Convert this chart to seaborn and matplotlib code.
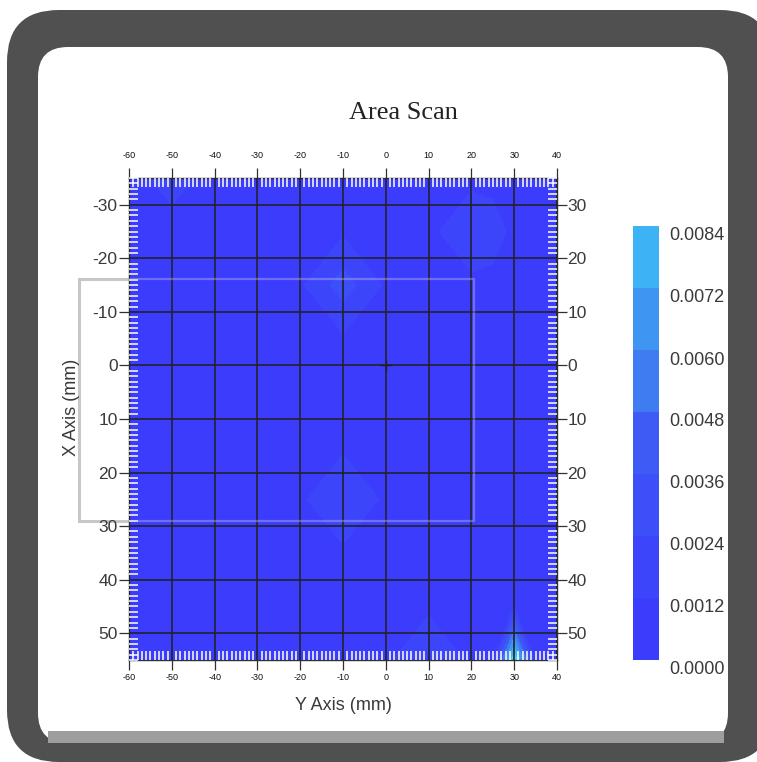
import numpy as np
import matplotlib
matplotlib.use("Agg")
import matplotlib.pyplot as plt
import matplotlib.cm as cm
import seaborn as sns
from matplotlib.colors import ListedColormap, BoundaryNorm
from matplotlib.patches import FancyBboxPatch, Rectangle
from matplotlib.transforms import ScaledTranslation

# ---------------- data ----------------
x_nodes = [-60, -50, -40, -30, -20, -10, 0, 10, 20, 25, 30, 35, 40]   # Y Axis (mm)
y_nodes = [-35, -25, -15, -5, 5, 15, 25, 35, 45, 55]                  # X Axis (mm)
background = 0.0010
hot_x = [-50, 20, 25, -10, -10, 10, 30]
hot_y = [-35, -25, -25, -15, 25, 55, 55]
hot_v = [0.0014, 0.0018, 0.0015, 0.0030, 0.0022, 0.0021, 0.0095]
center_x = [0]
center_y = [0]

cbar_levels = [0.0000, 0.0012, 0.0024, 0.0036, 0.0048, 0.0060, 0.0072, 0.0084]
plot_levels = cbar_levels + [0.0100]
x_ticks = [-60, -50, -40, -30, -20, -10, 0, 10, 20, 30, 40]
y_ticks = [-30, -20, -10, 0, 10, 20, 30, 40, 50]
title = "Area Scan"
xlabel = "Y Axis (mm)"
ylabel = "X Axis (mm)"

band_colors = ["#3c3cfc", "#3d45fa", "#3d4ff8", "#3e5bf6",
               "#3f7cf2", "#3f95f2", "#3db3f5"]
over_color = "#4ad6f2"

# ---------------- style ----------------
sns.set_theme(style="white")
plt.rcParams["font.family"] = ["Liberation Sans", "DejaVu Sans"]
plt.rcParams["axes.unicode_minus"] = False

W, H = 757, 762
fig = plt.figure(figsize=(W / 100, H / 100), dpi=100)
fig.patch.set_facecolor("white")

# decorative frame (pixel coordinates)
bg = fig.add_axes([0, 0, 1, 1], zorder=-5)
bg.set_xlim(0, W)
bg.set_ylim(H, 0)
bg.axis("off")
bg.add_patch(FancyBboxPatch((7, 10), 765, 752,
                            boxstyle="round,pad=0,rounding_size=52",
                            fc="#505050", ec="none"))
bg.add_patch(FancyBboxPatch((38, 47), 690, 696,
                            boxstyle="round,pad=0,rounding_size=30",
                            fc="white", ec="none"))
bg.add_patch(Rectangle((48, 731), 676, 12, fc="#9e9e9e", ec="none"))
bg.add_patch(Rectangle((79, 279), 395, 242, fill=False, ec="#c4c8c8", lw=2.2))

# main axes
ax = fig.add_axes([129 / W, 1 - 660 / H, 428 / W, 482 / H])

X, Y = np.meshgrid(x_nodes, y_nodes)
Z = np.full(X.shape, background)
for hx, hy, hv in zip(hot_x, hot_y, hot_v):
    Z[y_nodes.index(hy), x_nodes.index(hx)] = hv

ax.contourf(X, Y, Z, levels=plot_levels, colors=band_colors + [over_color])

faint = Rectangle((79, 279), 395, 242, transform=bg.transData, fill=False,
                  ec="#d0d0e8", lw=1.6, alpha=0.35, zorder=3)
ax.add_patch(faint)

ax.plot(center_x, center_y, marker="+", color="#202020", ms=8, mew=1.0,
        ls="none", zorder=4)

ax.set_xlim(-60, 40)
ax.set_ylim(55, -35)
ax.set_xticks(x_ticks)
ax.set_yticks(y_ticks)
ax.set_xticks(np.arange(-60, 41, 1), minor=True)
ax.set_yticks(np.arange(-35, 56, 1), minor=True)

ax.set_axisbelow(False)
ax.grid(True, which="major", color="#22222c", lw=1.2)
ax.grid(False, which="minor")
for sp in ax.spines.values():
    sp.set_color("#303030")
    sp.set_linewidth(1.0)

ax.tick_params(which="major", direction="out", length=7.2, width=0.9,
               color="#303030")
ax.tick_params(axis="x", which="major", top=True, bottom=True, labeltop=False,
               labelsize=6.5, labelcolor="#111111", pad=2)
ax.tick_params(axis="y", which="major", left=True, right=True, labelright=False,
               labelsize=12.5, labelcolor="#3a3a3a", pad=1)
ax.tick_params(which="minor", direction="in", length=6.5, width=1.1,
               color="white", top=True, bottom=True, left=True, right=True)

secx = ax.secondary_xaxis("top")
secx.set_xticks(x_ticks)
secx.tick_params(length=0, labelsize=6.5, labelcolor="#111111", pad=13)
secx.spines["top"].set_visible(False)

secy = ax.secondary_yaxis("right")
secy.set_yticks(y_ticks, labels=[str(abs(v)) for v in y_ticks])
secy.tick_params(length=0, labelsize=12.5, labelcolor="#3a3a3a", pad=7.5)
secy.spines["right"].set_visible(False)

ax.set_xlabel(xlabel, fontsize=13, color="#3a3a3a")
ax.xaxis.set_label_coords(0.5, (660 - 705) / 482)
ax.xaxis.label.set_va("center")
ax.set_ylabel(ylabel, fontsize=13, color="#3a3a3a")
ax.yaxis.set_label_coords((72 - 129) / 428, (660 - 407) / 482)
ax.yaxis.label.set_va("center")

fig.text(403 / W, 1 - 113 / H, title, ha="center", va="center", fontsize=19,
         family=["Liberation Serif", "DejaVu Serif"], color="#222222")

# colorbar
cax = fig.add_axes([633 / W, 1 - 660 / H, 26 / W, 434 / H])
sm = cm.ScalarMappable(norm=BoundaryNorm(cbar_levels, len(band_colors)),
                       cmap=ListedColormap(sns.color_palette(band_colors)))
cb = fig.colorbar(sm, cax=cax, ticks=cbar_levels)
cb.outline.set_visible(False)
cax.tick_params(length=0, labelright=False, labelleft=False)
off = ScaledTranslation(10 / 100, -10 / 100, fig.dpi_scale_trans)
for v in cbar_levels:
    cax.text(1.0, v, f"{v:.4f}", transform=cax.get_yaxis_transform() + off,
             ha="left", va="center", fontsize=13, color="#3a3a3a")

fig.savefig("out.png", dpi=100)
